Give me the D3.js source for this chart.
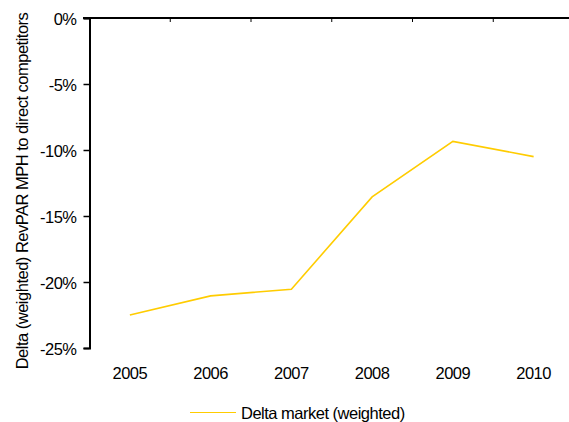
<!DOCTYPE html>
<html>
<head>
<meta charset="utf-8">
<script src="https://cdn.jsdelivr.net/npm/d3@7"></script>
<style>
  body { margin: 0; background: #fff; }
  svg text { font-family: "Liberation Sans", Arial, sans-serif; fill: #000; font-size: 16.5px; letter-spacing: -0.5px; }
</style>
</head>
<body>
<svg id="chart" width="569" height="422"></svg>
<script>
// chart data
var years = ["2005", "2006", "2007", "2008", "2009", "2010"];
var deltaMarket = [-22.5, -21.05, -20.55, -13.55, -9.35, -10.5];
var yTicks = [0, -5, -10, -15, -20, -25];
var seriesName = "Delta market (weighted)";
var yTitle = "Delta (weighted) RevPAR MPH to direct competitors";

var svg = d3.select("#chart");

// plot box (note: "top" is taken by window.top)
var plotLeft = 89.5, plotTop = 18, plotRight = 574, plotBottom = 348;

var x = d3.scaleBand()
    .domain(years)
    .range([plotLeft, plotRight]);

var y = d3.scaleLinear()
    .domain([-25, 0])
    .range([plotBottom, plotTop]);

// top axis at 0% with category ticks
var xAxis = svg.append("g")
    .attr("transform", "translate(0," + plotTop + ")");
xAxis.append("line")
    .attr("x1", 83).attr("x2", 569)
    .attr("y1", 0).attr("y2", 0)
    .attr("stroke", "#000").attr("stroke-width", 2);
xAxis.selectAll("line.tick")
    .data(years.slice(1))
    .enter().append("line")
    .attr("class", "tick")
    .attr("x1", function(d) { return x(d); })
    .attr("x2", function(d) { return x(d); })
    .attr("y1", 0).attr("y2", 4)
    .attr("stroke", "#000").attr("stroke-width", 1);

// year labels at bottom
svg.selectAll("text.year")
    .data(years)
    .enter().append("text")
    .attr("class", "year")
    .attr("x", function(d) { return x(d) + x.bandwidth() / 2; })
    .attr("y", 379)
    .attr("text-anchor", "middle")
    .text(function(d) { return d; });

// left axis
var yAxis = d3.axisLeft(y)
    .tickValues(yTicks)
    .tickSize(6)
    .tickPadding(7)
    .tickFormat(function(d) { return d + "%"; });

var gy = svg.append("g")
    .attr("transform", "translate(" + plotLeft + ",0)")
    .call(yAxis);
gy.select(".domain").attr("stroke-width", 2);
gy.selectAll(".tick line").attr("stroke-width", 1.5);
gy.selectAll(".tick text")
    .attr("dy", "0.4em")
    .attr("font-size", null)
    .attr("font-family", null)
    .style("font-size", "16.5px");

// y title
svg.append("text")
    .attr("transform", "translate(28,191) rotate(-90)")
    .attr("text-anchor", "middle")
    .text(yTitle);

// series line
var line = d3.line()
    .x(function(d, i) { return x(years[i]) + x.bandwidth() / 2; })
    .y(function(d) { return y(d); });

svg.append("path")
    .datum(deltaMarket)
    .attr("d", line)
    .attr("fill", "none")
    .attr("stroke", "#FFCC00")
    .attr("stroke-width", 1.6);

// legend
var legend = svg.append("g").attr("transform", "translate(190,412.5)");
legend.append("line")
    .attr("x1", 0).attr("x2", 46)
    .attr("stroke", "#FFCC00").attr("stroke-width", 1.2);
legend.append("text")
    .attr("x", 51).attr("y", 6)
    .text(seriesName);
</script>
</body>
</html>
